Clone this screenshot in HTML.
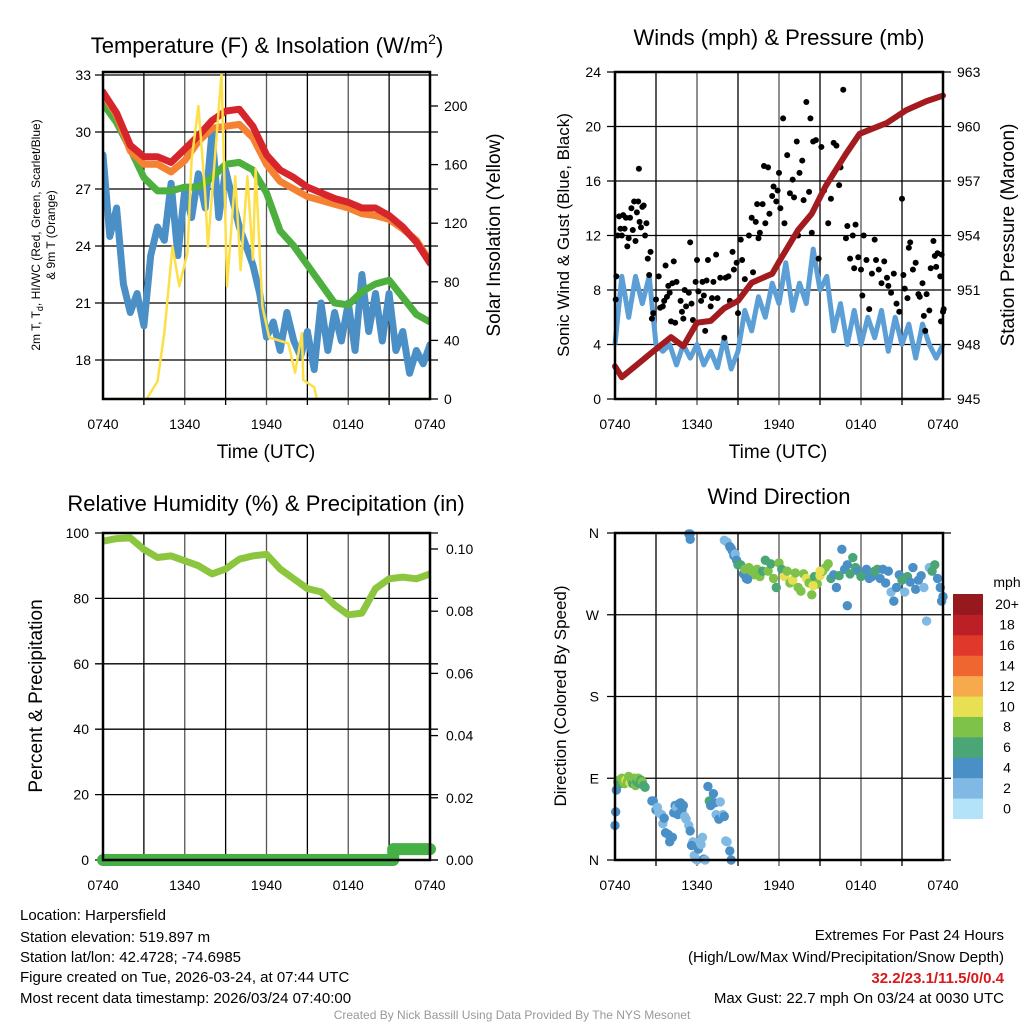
<!DOCTYPE html>
<html><head><meta charset="utf-8">
<style>
html,body{margin:0;padding:0;background:#fff;}
svg{display:block;font-family:"Liberation Sans",Arial,sans-serif;}
</style></head>
<body>
<svg id="chart" width="1024" height="1024" viewBox="0 0 1024 1024" xmlns="http://www.w3.org/2000/svg">
<rect width="1024" height="1024" fill="#fff"/>
<g id="g1"></g>
<g id="g2"></g>
<g id="g3"></g>
<g id="g4"></g>
<text x="267" y="53" font-size="22" text-anchor="middle">Temperature (F) &amp; Insolation (W/m<tspan font-size="14" dy="-9">2</tspan><tspan dy="9">)</tspan></text>
<text x="779" y="45" font-size="22" text-anchor="middle">Winds (mph) &amp; Pressure (mb)</text>
<text x="266" y="511" font-size="22" text-anchor="middle">Relative Humidity (%) &amp; Precipitation (in)</text>
<text x="779" y="504" font-size="22" text-anchor="middle">Wind Direction</text>
<text x="266" y="458" font-size="19" text-anchor="middle">Time (UTC)</text>
<text x="778" y="458" font-size="19" text-anchor="middle">Time (UTC)</text>
<text transform="translate(40,235) rotate(-90)" font-size="12" text-anchor="middle">2m T, T<tspan font-size="9" dy="3">d</tspan><tspan dy="-3">, HI/WC (Red, Green, Scarlet/Blue)</tspan></text>
<text transform="translate(55,235) rotate(-90)" font-size="12" text-anchor="middle">&amp; 9m T (Orange)</text>
<text transform="translate(500,235) rotate(-90)" font-size="19" text-anchor="middle">Solar Insolation (Yellow)</text>
<text transform="translate(569,235) rotate(-90)" font-size="17" text-anchor="middle">Sonic Wind &amp; Gust (Blue, Black)</text>
<text transform="translate(1014,235) rotate(-90)" font-size="19" text-anchor="middle">Station Pressure (Maroon)</text>
<text transform="translate(42,696) rotate(-90)" font-size="19" text-anchor="middle">Percent &amp; Precipitation</text>
<text transform="translate(566,696) rotate(-90)" font-size="17" text-anchor="middle">Direction (Colored By Speed)</text>
<g font-size="15">
<text x="20" y="920">Location: Harpersfield</text>
<text x="20" y="942">Station elevation: 519.897 m</text>
<text x="20" y="962">Station lat/lon: 42.4728; -74.6985</text>
<text x="20" y="982">Figure created on Tue, 2026-03-24, at 07:44 UTC</text>
<text x="20" y="1003">Most recent data timestamp: 2026/03/24 07:40:00</text>
</g>
<g font-size="15" text-anchor="end">
<text x="1004" y="940">Extremes For Past 24 Hours</text>
<text x="1004" y="962">(High/Low/Max Wind/Precipitation/Snow Depth)</text>
<text x="1004" y="983" fill="#d7191c" font-weight="bold">32.2/23.1/11.5/0/0.4</text>
<text x="1004" y="1003">Max Gust: 22.7 mph On 03/24 at 0030 UTC</text>
</g>
<text x="512" y="1019" font-size="12" fill="#999" text-anchor="middle">Created By Nick Bassill Using Data Provided By The NYS Mesonet</text>
</svg>
<script>
// ---------- data ----------
const xTickLabels = ["0740","1340","1940","0140","0740"];
const tempHours = [0,1,2,3,4,5,6,7,8,9,10,11,12,13,14,15,16,17,18,19,20,21,22,23,24];
const tempRed = [32.1,31.0,29.3,28.7,28.7,28.4,29.1,29.8,30.6,31.1,31.2,30.3,28.8,28.0,27.6,27.1,26.8,26.5,26.3,26.0,26.0,25.6,25.0,24.2,23.1];
const tempOrange = [32.0,30.9,29.0,28.3,28.3,27.9,28.5,29.5,30.2,30.3,30.4,29.7,28.3,27.4,27.0,26.6,26.4,26.2,26.0,25.7,25.6,25.4,24.9,24.3,23.2];
const tempGreen = [31.5,30.5,29.1,27.6,26.9,26.9,27.1,27.1,27.6,28.3,28.4,28.0,26.8,24.8,24.0,23.0,22.0,21.0,20.9,21.6,22.0,22.2,21.3,20.4,20.0];
const dewHours = [0,0.5,1,1.5,2,2.5,3,3.5,4,4.5,5,5.5,6,6.5,7,7.5,8,8.5,9,9.5,10,10.5,11,11.5,12,12.5,13,13.5,14,14.5,15,15.5,16,16.5,17,17.5,18,18.5,19,19.5,20,20.5,21,21.5,22,22.5,23,23.5,24];
const dewBlue = [28.8,24.5,26.0,22.0,20.5,21.5,19.8,23.5,25.0,24.3,27.3,23.5,27.0,25.5,27.8,26.0,30.0,25.5,28.0,26.5,25.0,24.0,23.0,21.5,19.2,20.0,18.5,20.5,19.0,18.2,19.5,17.5,21.0,18.5,20.5,19.0,21.0,18.5,22.5,19.5,21.5,19.0,21.5,18.5,19.5,17.3,18.5,17.8,18.8];
const solarHours = [0,3.2,4,4.5,5.1,5.6,6.2,6.5,7,7.5,7.7,8.3,8.7,8.9,9.1,9.7,10.1,10.6,11,11.2,11.7,12.2,13.6,14.1,14.6,14.7,15.5,15.7,24];
const solarVals = [0,0,12,45,104,77,100,163,200,140,104,175,222,152,77,152,88,152,95,157,63,42,38,18,45,13,8,0,0];
const windHours = dewHours;
const windSonic = [4,9,6,9,7,9,4,3.5,4,2.5,4,3,4,2.5,3.5,2.3,4.5,2.2,3.5,6.5,5,7.5,6,8.5,7,10,6.5,8.5,7,11,8,9,5,7,4,6.5,4,6,4.5,6.5,3.5,6,4,5.5,3,5.5,4,3,4];
const pressHours = [0,0.5,2.6,4.1,5,6,7,8,9,10,11.5,12.2,13.4,14.4,15.4,16.9,17.9,19.9,21.3,22.8,24];
const pressVals = [946.8,946.2,947.5,948.4,947.9,949.2,949.3,950.0,950.4,951.4,951.9,952.8,954.3,955.2,956.7,958.5,959.6,960.2,960.9,961.4,961.7];
const gustHours = [0.05,0.1,0.2,0.3,0.4,0.5,0.6,0.7,0.8,0.9,1.0,1.1,1.2,1.3,1.4,1.5,1.6,1.7,1.8,1.9,2.0,2.1,1.75,2.2,2.3,2.4,2.5,2.6,2.7,2.8,3.0,3.2,3.3,3.5,3.6,3.7,3.8,3.9,4.0,4.1,4.2,4.3,4.4,4.5,4.8,4.9,5.0,5.1,5.2,5.4,5.5,5.6,5.7,5.9,6.0,6.1,6.3,6.4,6.5,6.6,6.7,6.8,7.0,7.1,7.2,7.4,7.5,7.7,7.8,8.0,8.1,8.3,8.4,8.6,8.7,8.9,9.0,9.2,9.3,9.5,9.8,10.0,10.1,10.3,10.4,10.5,10.6,10.8,10.9,11.0,11.2,11.3,11.5,11.6,11.8,11.9,12.0,12.1,12.3,12.4,12.6,12.8,13.0,13.1,13.3,13.4,13.5,13.7,13.8,14.0,14.2,14.3,14.4,14.5,14.7,14.9,15.1,15.3,15.6,15.8,16.0,16.2,16.4,16.5,16.7,16.9,17.0,17.2,17.4,17.5,17.6,17.8,18.0,18.1,18.2,18.4,18.6,18.8,19.0,19.1,19.3,19.5,19.7,19.9,20.0,20.2,20.4,20.6,20.8,21.0,21.1,21.2,21.4,21.5,21.6,21.8,22.0,22.2,22.3,22.5,22.6,22.7,22.8,23.0,23.1,23.3,23.4,23.5,23.6,23.8,23.9,24.0,23.85,24.05];
const gustVals = [7.3,9,12,13.4,12.5,12,13.5,12.5,13.3,11.2,11.8,13.3,14,12.4,14.5,11.6,13.7,14.5,13.0,12.6,14.1,14.2,16.9,12,12.9,10.3,9.1,10.8,5.9,6.3,7.3,9.0,6.7,6.8,7.2,9.8,7.5,8.3,7.8,5.7,8.5,10.1,5.6,8.6,7.2,6.4,5.9,8.0,6.8,7.8,11.5,7.0,5.8,8.6,10.2,7.9,7.2,8.6,7.6,5,8.7,10.2,6.8,7.4,8.6,10.6,7.4,8.9,6.5,4.5,8.9,9.0,7.2,10.8,9.5,10.0,6.3,11.7,10.2,8.8,12.0,13.3,9.3,13.0,14.3,11.8,12.2,14.3,17.1,12.9,17.0,13.6,14.9,15.6,14.5,15.3,16.6,14.0,20.6,12.9,17.9,15.1,16.1,14.8,18.9,12.0,16.6,17.5,14.6,21.8,15.2,20.6,12.2,18.9,19.0,10.3,18.5,15.3,12.9,14.7,18.8,18.6,15.7,17.0,22.7,11.8,12.7,10.3,12.0,9.6,12.8,10.4,9.5,7.6,12.0,10.2,6.6,9.2,11.7,10.2,9.5,8.5,10.1,8.9,8.3,7.8,9.2,7.0,6.4,14.7,9.1,8.1,7.4,11.1,11.5,9.5,10.0,7.7,7.5,8.5,6.1,5.0,7.7,6.5,9.6,11.6,10.5,9.7,10.7,9.0,10.6,6.4,5.7,6.6];
const rhHours = tempHours;
const rhVals = [97.5,98.3,98.5,95,92.5,93,91.5,90,87.5,89,92,93,93.5,89,86,83,82,78,75,75.5,83,86,86.5,86,87.5];
const precipHours = [0,21.3,21.3,24];
const precipVals = [0,0,0.0035,0.0035];
const dirHours = [0,0.05,0.1,0.2,0.3,0.4,0.5,0.6,0.7,0.8,0.9,1.0,1.1,1.2,1.3,1.4,1.5,1.6,1.7,1.8,1.9,2.0,2.1,2.2,2.7,2.8,3.0,3.1,3.2,3.4,3.5,3.6,3.7,3.9,4.0,4.2,4.3,4.4,4.5,4.6,4.7,4.8,4.9,5.0,5.1,5.2,5.4,5.5,5.7,5.8,5.9,6.0,6.1,6.2,6.3,6.4,6.5,6.6,5.6,6.8,6.9,7.0,7.2,7.3,7.4,7.6,7.7,7.9,8.0,8.1,8.2,8.4,8.5,5.4,5.5,5.5,8.0,8.2,8.4,8.5,8.6,8.7,8.8,8.9,9.0,9.2,9.4,9.5,9.6,9.8,10.0,10.2,10.4,10.6,10.8,11.0,11.2,11.4,11.6,11.8,12.0,12.2,12.4,12.6,12.8,13.0,13.2,13.4,13.6,13.8,14.0,14.2,14.4,14.6,14.8,15.0,15.2,15.4,15.6,15.8,16.0,16.2,16.4,16.6,16.8,17.0,17.2,17.4,17.6,17.8,18.0,18.2,18.4,18.6,18.8,19.0,19.2,19.4,19.6,19.8,20.0,20.2,20.4,20.6,20.8,21.0,21.2,21.4,21.6,21.8,22.0,22.2,22.4,22.6,22.8,23.0,23.2,23.4,23.6,23.8,24.0,23.9,17.0,9.7,14.5,15.0];
const dirDeg = [38,53,77,86,88,84,90,86,84,88,86,92,85,88,84,90,82,86,90,84,88,86,82,80,65,65,55,58,52,50,40,46,30,28,20,25,52,60,58,50,62,63,55,60,48,45,38,32,20,5,1,0,12,20,17,25,1,0,16,81,65,60,73,63,50,45,64,50,48,21,20,10,0,359,359,353,352,350,345,343,340,335,337,330,325,325,315,320,310,322,318,314,320,312,318,330,318,326,310,300,327,320,312,318,305,308,316,300,296,315,310,305,292,312,304,313,318,322,326,310,314,300,313,342,320,325,315,333,322,318,312,315,320,310,312,318,320,310,320,305,318,295,285,300,314,308,295,312,306,322,298,308,313,300,263,322,318,325,310,300,290,285,280,309,302,318];
const dirSpd = [4,4,4,8,8,7,8,8,9,10,8,9,10,8,7,9,8,7,8,6,7,8,7,7,4,4,4,3,2,3,2,4,4,4,4,4,4,4,3,4,4,4,4,4,3,2,2,4,3,2,2,3,4,2,2,2,4,3,4,4,6,4,4,4,3,4,2,2,4,2,2,4,4,4,4,4,2,2,4,4,4,4,2,4,6,6,4,8,4,8,8,8,8,8,6,6,8,6,8,6,8,6,10,8,8,10,8,8,8,8,10,8,8,6,8,10,8,8,8,6,4,4,6,4,4,4,6,6,6,4,6,6,4,4,4,6,6,4,4,4,4,2,4,4,4,6,2,6,4,4,4,4,4,2,2,2,6,6,4,4,4,4,4,4,10,10];
const speedBins = ["0","2","4","6","8","10","12","14","16","18","20+"];
const speedColors = ["#b3e3f8","#80bae4","#4a8fc6","#4aa674","#7ec24a","#e6e052","#f6aa4c","#ef6630","#e0382b","#bc1f25","#961a1d"];

// ---------- helpers ----------
const NS = "http://www.w3.org/2000/svg";
function mk(parent, tag, attrs){ const e=document.createElementNS(NS,tag); for(const k in attrs) e.setAttribute(k,attrs[k]); parent.appendChild(e); return e; }
function mkText(parent, x, y, s, size, anchor){ const t=mk(parent,"text",{x:x,y:y,"font-size":size,"text-anchor":anchor}); t.textContent=s; return t; }
function pathD(xs, ys, fx, fy){ return xs.map((h,i)=>(i?"L":"M")+fx(h).toFixed(1)+","+fy(ys[i]).toFixed(1)).join(""); }

function frame(g, L, R, T, B, vGrid, hGridYs){
  for(let i=1;i<8;i++){ const x=L+(R-L)*i/8;
    const ln=mk(g,"line",{x1:x,x2:x,y1:T,y2:B+6,stroke:i%2?"#000":"#555","stroke-width":1.3});
    
     }
  hGridYs.forEach(y=>{ const ln=mk(g,"line",{x1:L-8,x2:R+8,y1:y,y2:y,stroke:"#000","stroke-width":1.3});
    
     });
  xTickLabels.forEach((s,i)=>{ const t=mkText(g,L+(R-L)*i/4,B+30,s,14,"middle");
    
     });
}
function border(g,L,R,T,B){
  const r=mk(g,"rect",{x:L,y:T,width:R-L,height:B-T,fill:"none",stroke:"#000","stroke-width":2.5});
  
  
}

// ---------- panel 1 ----------
(function(){
  const g=document.getElementById("g1");
  const L=103,R=430,T=72,B=399;
  const fx=h=>L+h/24*(R-L);
  const fy=v=>75+(33-v)*19;
  const fyR=v=>399-v*1.465;
  const lt=[33,30,27,24,21,18];
  frame(g,L,R,T,B,8,lt.map(fy));
  lt.forEach(v=>{ const t=mkText(g,L-12,fy(v)+5,String(v),14,"end");
    
     });
  [0,40,80,120,160,200].forEach(v=>{ const t=mkText(g,R+14,fyR(v)+5,String(v),14,"start");
    
    
    mk(g,"line",{x1:R,x2:R+8,y1:fyR(v),y2:fyR(v),stroke:"#000","stroke-width":1.3}); });
  const clip=mk(g,"clipPath",{id:"c1"}); mk(clip,"rect",{x:L,y:T,width:R-L,height:B-T});
  const series=[[dewHours,dewBlue,"#4a8fc6",7,fy,"dewpoint-line"],[tempHours,tempGreen,"#4daf3e",7,fy,"heat-index-line"],[tempHours,tempOrange,"#f58233",7,fy,"temp-9m-line"],[tempHours,tempRed,"#d7262b",7,fy,"temp-2m-line"],[solarHours,solarVals,"#fde047",2.5,fyR,"insolation-line"]];
  series.forEach(s=>{ const p=mk(g,"path",{d:pathD(s[0],s[1],fx,s[4]),fill:"none",stroke:s[2],"stroke-width":s[3],"stroke-linejoin":"round","stroke-linecap":"round","clip-path":"url(#c1)"});
    
     });
  border(g,L,R,T,B);
})();

// ---------- panel 2 ----------
(function(){
  const g=document.getElementById("g2");
  const L=615,R=943,T=72,B=399;
  const fx=h=>L+h/24*(R-L);
  const fy=v=>B-v*(B-T)/24;
  const fyR=p=>B-(p-945)*(B-T)/18;
  const lt=[0,4,8,12,16,20,24];
  frame(g,L,R,T,B,8,lt.map(fy));
  lt.forEach(v=>{ const t=mkText(g,L-14,fy(v)+5,String(v),14,"end");
    
     });
  [945,948,951,954,957,960,963].forEach(v=>{ const t=mkText(g,R+14,fyR(v)+5,String(v),14,"start");
    
     });
  const p1=mk(g,"path",{d:pathD(windHours,windSonic,fx,fy),fill:"none",stroke:"#5b9fd6","stroke-width":5,"stroke-linejoin":"round"});
  
  
  gustHours.forEach((h,i)=>{ const c=mk(g,"circle",{cx:fx(h),cy:fy(gustVals[i]),r:3,fill:"#000"});
    
     });
  const p2=mk(g,"path",{d:pathD(pressHours,pressVals,fx,fyR),fill:"none",stroke:"#a31b1f","stroke-width":6,"stroke-linejoin":"round","stroke-linecap":"round"});
  
  
  border(g,L,R,T,B);
})();

// ---------- panel 3 ----------
(function(){
  const g=document.getElementById("g3");
  const L=103,R=430,T=533,B=860;
  const fx=h=>L+h/24*(R-L);
  const fy=v=>B-v*3.27;
  const fyR=v=>B-v*3110;
  const lt=[0,20,40,60,80,100];
  frame(g,L,R,T,B,8,lt.map(fy));
  lt.forEach(v=>{ const t=mkText(g,L-14,fy(v)+5,String(v),14,"end");
    
     });
  ["0.00","0.02","0.04","0.06","0.08","0.10"].forEach((s,i)=>{ const t=mkText(g,R+16,fyR(i*0.02)+5,s,14,"start");
    
    
    mk(g,"line",{x1:R,x2:R+8,y1:fyR(i*0.02),y2:fyR(i*0.02),stroke:"#000","stroke-width":1.3}); });
  const p=mk(g,"path",{d:pathD(rhHours,rhVals,fx,fy),fill:"none",stroke:"#8cc63f","stroke-width":7,"stroke-linejoin":"round"});
  
  
  const q=mk(g,"path",{d:pathD(precipHours,precipVals,fx,fyR),fill:"none",stroke:"#45b045","stroke-width":12,"stroke-linejoin":"round","stroke-linecap":"round"});
  
  
  border(g,L,R,T,B);
})();

// ---------- panel 4 ----------
(function(){
  const g=document.getElementById("g4");
  const L=615,R=943,T=533,B=860;
  const fx=h=>L+h/24*(R-L);
  const fy=d=>B-d/360*(B-T);
  const dl=["N","E","S","W","N"];
  frame(g,L,R,T,B,8,[0,90,180,270,360].map(fy));
  dl.forEach((s,i)=>{ const t=mkText(g,L-16,fy(i*90)+5,s,14,"end");
    
     });
  dirHours.forEach((h,i)=>{ const b=Math.min(10,Math.floor(dirSpd[i]/2));
    const c=mk(g,"circle",{cx:fx(h),cy:fy(dirDeg[i]),r:4.7,fill:speedColors[b]});
    
     });
  border(g,L,R,T,B);
  const cbT=594, cbH=224.5/11;
  const u=mkText(g,1007,587,"mph",14,"middle");
  
  
  speedBins.forEach((s,i)=>{ const y=cbT+(10-i)*cbH;
    const r=mk(g,"rect",{x:953,y:y,width:30,height:cbH+0.5,fill:speedColors[i]});
    
    
    const t=mkText(g,1007,y+cbH/2+5,s,14,"middle");
    
     });
})();
</script>
</body></html>
